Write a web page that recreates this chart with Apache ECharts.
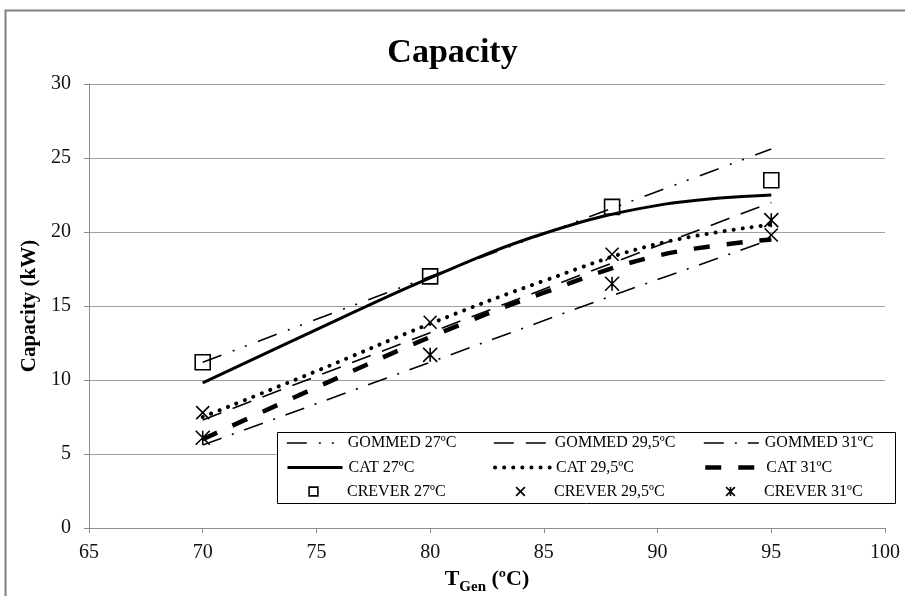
<!DOCTYPE html>
<html>
<head>
<meta charset="utf-8">
<script src="https://cdn.jsdelivr.net/npm/echarts@6/dist/echarts.min.js"></script>
<style>html,body{margin:0;padding:0;background:#fff;overflow:hidden}#c{width:905px;height:596px}</style>
</head>
<body>
<div id="c"></div>
<script>
// ---- data ----
const tGenCrever = [70, 80, 88, 95];
const crever27  = [11.2, 17.0, 21.7, 23.5];
const crever295 = [7.8, 13.9, 18.5, 19.8];
const crever31  = [6.1, 11.7, 16.5, 20.8];

const tGenGommed = [70, 80, 88, 95];
const gommed27  = [11.2, 17.0, 21.6, 25.6];
const gommed295 = [7.3, 13.2, 17.9, 22.0];
const gommed31  = [5.6, 11.2, 15.7, 19.5];

const tGenCat = [70, 75, 80, 85, 90, 95];
const cat27  = [9.8, 13.4, 16.9, 19.9, 21.8, 22.5];
const cat295 = [7.5, 10.6, 13.8, 16.7, 19.2, 20.5];
const cat31  = [6.0, 9.5, 12.9, 15.9, 18.4, 19.5];

const xTicks = {min: 65, max: 100, step: 5};
const yTicks = {min: 0, max: 30, step: 5};

const names = ['GOMMED 27ºC','GOMMED 29,5ºC','GOMMED 31ºC','CAT 27ºC','CAT 29,5ºC','CAT 31ºC','CREVER 27ºC','CREVER 29,5ºC','CREVER 31ºC'];

// ---- styling ----
const FONT = '"Liberation Serif", "Times New Roman", serif';
const pair = (xs, ys) => xs.map((x, i) => [x, ys[i]]);
const SYM_SQ = 'path://M0,0H10V10H0Z';
const SYM_X = 'path://M0,0L10,10M10,0L0,10';
const SYM_AST = 'path://M0,0L10,10M10,0L0,10M5,0L5,10';

const lineDefs = [
  {name: names[0], data: pair(tGenGommed, gommed27),  width: 1.6, type: [20, 12, 2, 11, 2, 12], smooth: false},
  {name: names[1], data: pair(tGenGommed, gommed295), width: 1.6, type: [20, 12], smooth: false},
  {name: names[2], data: pair(tGenGommed, gommed31),  width: 1.6, type: [20, 11, 2, 11], smooth: false},
  {name: names[3], data: pair(tGenCat, cat27),  width: 3, type: 'solid', smooth: 0.4},
  {name: names[4], data: pair(tGenCat, cat295), width: 4, type: [0.1, 9], smooth: 0.4, cap: 'round'},
  {name: names[5], data: pair(tGenCat, cat31),  width: 4.5, type: [16, 17], smooth: 0.4},
];
const markDefs = [
  {name: names[6], data: pair(tGenCrever, crever27),  symbol: SYM_SQ,  size: 15},
  {name: names[7], data: pair(tGenCrever, crever295), symbol: SYM_X,   size: 13},
  {name: names[8], data: pair(tGenCrever, crever31),  symbol: SYM_AST, size: 14},
];

const series = [];
lineDefs.forEach(d => series.push({
  name: d.name, type: 'line', data: d.data, smooth: d.smooth, showSymbol: false, symbol: 'none',
  lineStyle: {color: '#000', width: d.width, type: d.type, cap: d.cap || 'butt'},
  itemStyle: {color: '#000'}, z: 3, silent: true
}));
markDefs.forEach(d => series.push({
  name: d.name, type: 'line', data: d.data, showSymbol: true, symbol: d.symbol, symbolSize: d.size,
  lineStyle: {width: 0, opacity: 0},
  itemStyle: {color: 'rgba(0,0,0,0)', borderColor: '#000', borderWidth: 1.6},
  z: 4, silent: true
}));

// legends: 3 columns x 3 rows
const colX = [281, 488, 698];
const rowY = [430, 454.5, 478.5];
const legendText = {fontFamily: FONT, fontSize: 16, color: '#000', padding: [0, 0, 0, 1]};
const legends = [];
lineDefs.forEach((d, i) => {
  legends.push({
    left: colX[i % 3], top: rowY[Math.floor(i / 3)], selectedMode: false, z: 6,
    itemWidth: 55, itemHeight: 12, textStyle: legendText,
    data: [{name: d.name, itemStyle: {opacity: 0},
            lineStyle: {color: '#000', width: d.width, type: d.type, cap: d.cap || 'butt', opacity: 1}}]
  });
});
markDefs.forEach((d, i) => {
  legends.push({
    left: colX[i], top: rowY[2], selectedMode: false, z: 6,
    itemWidth: 55, itemHeight: 11, textStyle: legendText,
    data: [{name: d.name, itemStyle: {color: 'rgba(0,0,0,0)', borderColor: '#000', borderWidth: 1.6, opacity: 1},
            lineStyle: {opacity: 0, width: 0}}]
  });
});

const chart = echarts.init(document.getElementById('c'), null, {renderer: 'canvas', width: 905, height: 596});
chart.setOption({
  backgroundColor: '#fff',
  animation: false,
  title: {
    text: 'Capacity', left: 'center', top: 31,
    textStyle: {fontFamily: FONT, fontSize: 34, fontWeight: 'bold', color: '#000'}
  },
  grid: {left: 89, top: 84, width: 796, height: 444, containLabel: false, outerBoundsMode: 'none'},
  xAxis: {
    type: 'value', min: xTicks.min, max: xTicks.max, interval: xTicks.step,
    name: '{b|T}{s|Gen}{b| (ºC)}', nameLocation: 'middle', nameGap: 37,
    nameTextStyle: {
      rich: {
        b: {fontFamily: FONT, fontSize: 22, fontWeight: 'bold', color: '#000', lineHeight: 24, verticalAlign: 'bottom'},
        s: {fontFamily: FONT, fontSize: 15, fontWeight: 'bold', color: '#000', lineHeight: 24, verticalAlign: 'bottom', padding: [0, 0, -5, 0]}
      }
    },
    axisLine: {show: true, lineStyle: {color: '#8c8c8c', width: 1}},
    axisTick: {show: true, length: 5, lineStyle: {color: '#8c8c8c'}},
    axisLabel: {fontFamily: FONT, fontSize: 20, color: '#111', margin: 15},
    splitLine: {show: false}
  },
  yAxis: {
    type: 'value', min: yTicks.min, max: yTicks.max, interval: yTicks.step,
    name: 'Capacity (kW)', nameLocation: 'middle', nameGap: 48, nameRotate: 90,
    nameTextStyle: {fontFamily: FONT, fontSize: 21, fontWeight: 'bold', color: '#000'},
    axisLine: {show: true, lineStyle: {color: '#8c8c8c', width: 1}},
    axisTick: {show: true, length: 5, lineStyle: {color: '#8c8c8c'}},
    axisLabel: {fontFamily: FONT, fontSize: 20, color: '#111', margin: 18},
    splitLine: {show: true, lineStyle: {color: '#a0a0a0', width: 1}}
  },
  legend: legends,
  graphic: [
    {type: 'rect', left: 3, top: 8, shape: {width: 920, height: 620}, style: {fill: 'none', stroke: '#808080', lineWidth: 2}, z: 0, silent: true},
    {type: 'rect', left: 277, top: 432, shape: {width: 618, height: 71}, style: {fill: '#fff', stroke: '#000', lineWidth: 1}, z: 5, silent: true}
  ],
  series: series
});
</script>
</body>
</html>
